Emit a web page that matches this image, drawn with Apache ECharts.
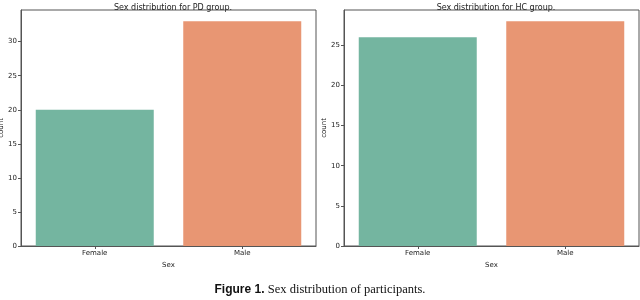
<!DOCTYPE html>
<html>
<head>
<meta charset="utf-8">
<script src="https://cdn.jsdelivr.net/npm/echarts@6/dist/echarts.min.js"></script>
<style>html,body{margin:0;padding:0;background:#fff}#c{width:640px;height:300px}</style>
</head>
<body>
<div id="c"></div>
<script>
const categories = ['Female', 'Male'];
const pdCounts = [20, 33];
const hcCounts = [26, 28];
const titles = ['Sex distribution for PD group.', 'Sex distribution for HC group.'];
const yTicksPD = [0, 5, 10, 15, 20, 25, 30];
const yTicksHC = [0, 5, 10, 15, 20, 25];
const barColors = ['#74b5a0', '#e89673'];

const chart = echarts.init(document.getElementById('c'), null, {renderer: 'canvas'});
const font = 'DejaVu Sans';
const axisCol = '#555';

function mkX(gi) {
  return {
    type: 'category', gridIndex: gi, data: categories,
    name: 'Sex', nameLocation: 'middle', nameGap: 15,
    nameTextStyle: {fontFamily: font, fontSize: 7, color: '#222'},
    axisLine: {show: true, lineStyle: {color: axisCol, width: 1}},
    axisTick: {show: true, alignWithLabel: true, length: 3, lineStyle: {color: axisCol}},
    axisLabel: {fontFamily: font, fontSize: 7, color: '#222', margin: 4}
  };
}
function mkY(gi, vals, ticks) {
  return {
    type: 'value', gridIndex: gi, min: 0, max: Math.max(...vals) * 1.05, interval: 5,
    name: 'count', nameLocation: 'middle', nameGap: 14, nameRotate: 90,
    nameTextStyle: {fontFamily: font, fontSize: 7, color: '#222'},
    splitLine: {show: false},
    axisLine: {show: true, lineStyle: {color: axisCol, width: 1}},
    axisTick: {show: true, length: 3, lineStyle: {color: axisCol}},
    axisLabel: {fontFamily: font, fontSize: 7, color: '#222', margin: 4,
      showMaxLabel: false,
      formatter: v => ticks.includes(v) ? String(v) : ''}
  };
}
function mkSeries(gi, vals) {
  return {
    type: 'bar', xAxisIndex: gi, yAxisIndex: gi, barCategoryGap: '20%',
    data: vals.map((v, i) => ({value: v, itemStyle: {color: barColors[i]}})),
    silent: true, animation: false
  };
}

chart.setOption({
  animation: false,
  title: [
    {text: titles[0], left: 168, top: -1, textAlign: 'center',
     textStyle: {fontFamily: font, fontSize: 8, fontWeight: 'normal', color: '#222'}},
    {text: titles[1], left: 491, top: -1, textAlign: 'center',
     textStyle: {fontFamily: font, fontSize: 8, fontWeight: 'normal', color: '#222'}}
  ],
  grid: [
    {left: 21, right: 324, top: 10, bottom: 54, show: true, borderColor: axisCol, borderWidth: 1, backgroundColor: 'transparent', outerBoundsMode: 'none', containLabel: false},
    {left: 344, right: 1, top: 10, bottom: 54, show: true, borderColor: axisCol, borderWidth: 1, backgroundColor: 'transparent', outerBoundsMode: 'none', containLabel: false}
  ],
  xAxis: [mkX(0), mkX(1)],
  yAxis: [mkY(0, pdCounts, yTicksPD), mkY(1, hcCounts, yTicksHC)],
  series: [mkSeries(0, pdCounts), mkSeries(1, hcCounts)],
  graphic: [{
    type: 'text', left: 'center', top: 283,
    style: {
      text: '{a|Figure 1.} {b|Sex distribution of participants.}',
      rich: {
        a: {fontFamily: 'Liberation Sans', fontWeight: 'bold', fontSize: 12, fill: '#111'},
        b: {fontFamily: 'Liberation Serif', fontSize: 12.5, fill: '#111'}
      }
    }
  }]
});
</script>
</body>
</html>
